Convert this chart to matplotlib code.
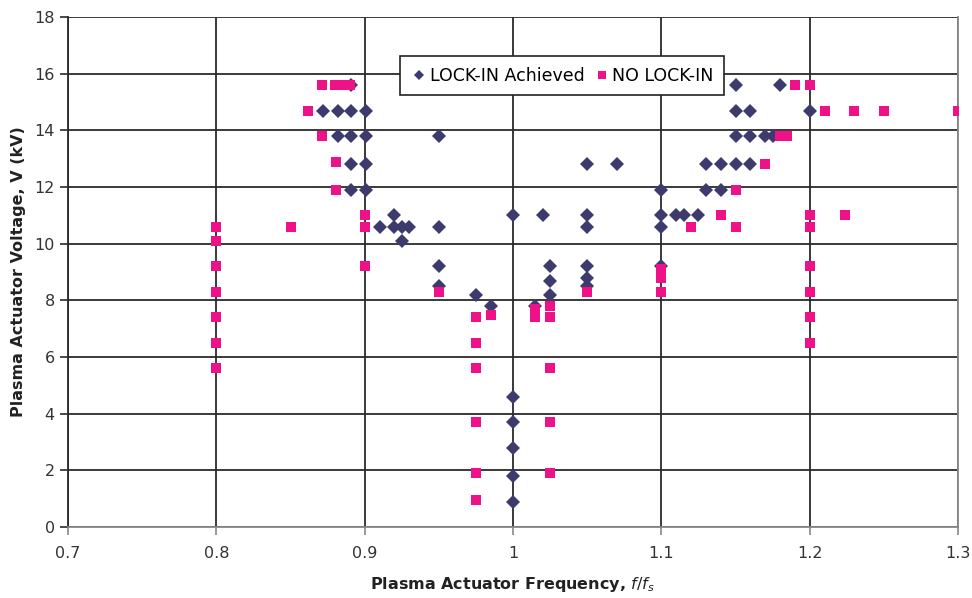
import matplotlib
matplotlib.use("Agg")
import matplotlib.pyplot as plt
from matplotlib.ticker import FixedLocator, FixedFormatter

# LOCK-IN Achieved (diamonds)
lock_x = [0.872, 0.882, 0.882, 0.891, 0.891, 0.891, 0.891, 0.891,
          0.901, 0.901, 0.901, 0.901,
          0.91, 0.92, 0.92, 0.925, 0.925, 0.93,
          0.95, 0.95, 0.95, 0.95,
          0.975, 0.985,
          1.0, 1.0, 1.0, 1.0, 1.0, 1.0,
          1.015, 1.02, 1.025, 1.025, 1.025,
          1.05, 1.05, 1.05, 1.05, 1.05, 1.05,
          1.07,
          1.10, 1.10, 1.10, 1.10,
          1.11, 1.115, 1.125,
          1.13, 1.13, 1.14, 1.14,
          1.15, 1.15, 1.15, 1.15,
          1.16, 1.16, 1.16,
          1.17, 1.175, 1.18, 1.20]
lock_v = [14.7, 14.7, 13.8, 15.6, 14.7, 13.8, 12.8, 11.9,
          14.7, 13.8, 12.8, 11.9,
          10.6, 11.0, 10.6, 10.6, 10.1, 10.6,
          13.8, 10.6, 9.2, 8.5,
          8.2, 7.8,
          11.0, 4.6, 3.7, 2.8, 1.8, 0.9,
          7.8, 11.0, 9.2, 8.7, 8.2,
          12.8, 11.0, 10.6, 9.2, 8.8, 8.5,
          12.8,
          11.9, 11.0, 10.6, 9.2,
          11.0, 11.0, 11.0,
          12.8, 11.9, 12.8, 11.9,
          15.6, 14.7, 13.8, 12.8,
          14.7, 13.8, 12.8,
          13.8, 13.8, 15.6, 14.7]

# NO LOCK-IN (squares)
nolock_x = [0.8, 0.8, 0.8, 0.8, 0.8, 0.8, 0.8,
            0.85, 0.862, 0.871, 0.871,
            0.88, 0.881, 0.881, 0.884, 0.89,
            0.90, 0.90, 0.90,
            0.95,
            0.975, 0.975, 0.975, 0.975, 0.975, 0.975,
            0.985, 1.015, 1.015,
            1.025, 1.025, 1.025, 1.025, 1.025,
            1.05,
            1.10, 1.10, 1.10,
            1.12, 1.14, 1.15, 1.15, 1.17, 1.18, 1.185, 1.19,
            1.20, 1.20, 1.20, 1.20, 1.20, 1.20, 1.20,
            1.21, 1.224, 1.23, 1.25, 1.30]
nolock_v = [10.6, 10.1, 9.2, 8.3, 7.4, 6.5, 5.6,
            10.6, 14.7, 15.6, 13.8,
            15.6, 12.9, 11.9, 15.6, 15.6,
            11.0, 10.6, 9.2,
            8.3,
            7.4, 6.5, 5.6, 3.7, 1.9, 0.95,
            7.5, 7.7, 7.4,
            7.8, 7.4, 5.6, 3.7, 1.9,
            8.3,
            9.1, 8.8, 8.3,
            10.6, 11.0, 11.9, 10.6, 12.8, 13.8, 13.8, 15.6,
            15.6, 11.0, 10.6, 9.2, 8.3, 7.4, 6.5,
            14.7, 11.0, 14.7, 14.7, 14.7]

x_ticks = [0.7, 0.8, 0.9, 1.0, 1.1, 1.2, 1.3]
x_tick_labels = ["0.7", "0.8", "0.9", "1", "1.1", "1.2", "1.3"]
y_ticks = [0, 2, 4, 6, 8, 10, 12, 14, 16, 18]

plt.rcParams['font.family'] = ['DejaVu Sans']

fig = plt.figure(figsize=(9.72, 5.98), dpi=100)
ax = fig.add_axes([68/972, 1-527/598, (958-68)/972, (527-17)/598])

ax.set_xlim(0.7, 1.3)
ax.set_ylim(0, 18)
ax.xaxis.set_major_locator(FixedLocator(x_ticks))
ax.xaxis.set_major_formatter(FixedFormatter(x_tick_labels))
ax.set_yticks(y_ticks)

ax.grid(True, color='#2a2a2a', linewidth=1.3)
ax.set_axisbelow(True)

ax.plot(lock_x, lock_v, linestyle='none', marker='D', markersize=7,
        color='#3d3a6e', markeredgewidth=0, label='LOCK-IN Achieved', zorder=3)
ax.plot(nolock_x, nolock_v, linestyle='none', marker='s', markersize=7,
        color='#ee1188', markeredgewidth=0, label='NO LOCK-IN', zorder=4)

ax.spines['top'].set_visible(False)
ax.spines['left'].set_color('#2a2a2a')
ax.spines['left'].set_linewidth(1.3)
ax.spines['bottom'].set_color('#888888')
ax.spines['bottom'].set_linewidth(1.3)
ax.spines['right'].set_color('#888888')
ax.spines['right'].set_linewidth(1.3)

ax.tick_params(axis='both', direction='out', length=6, width=1.2,
               colors='#2a2a2a', labelsize=11.5, labelcolor='#333333')
ax.tick_params(axis='x', colors='#888888', labelcolor='#333333', pad=8)

ax.set_ylabel('Plasma Actuator Voltage, V (kV)', fontsize=11.5,
              fontweight='bold', color='#222222', labelpad=6)
ax.set_xlabel(r'Plasma Actuator Frequency, $\mathbf{\mathit{f/f}}_{s}$',
              fontsize=11.5, fontweight='bold', color='#222222', labelpad=10)

leg = ax.legend(loc='upper center', bbox_to_anchor=(0.555, 0.94), ncol=2,
                frameon=True, fancybox=False, fontsize=12.5,
                handletextpad=0.1, columnspacing=0.5, borderpad=0.6,
                handlelength=1.0, markerscale=0.75)
leg.get_frame().set_edgecolor('#222222')
leg.get_frame().set_linewidth(1.2)
leg.get_frame().set_alpha(1.0)

fig.savefig('out.png', dpi=100)
